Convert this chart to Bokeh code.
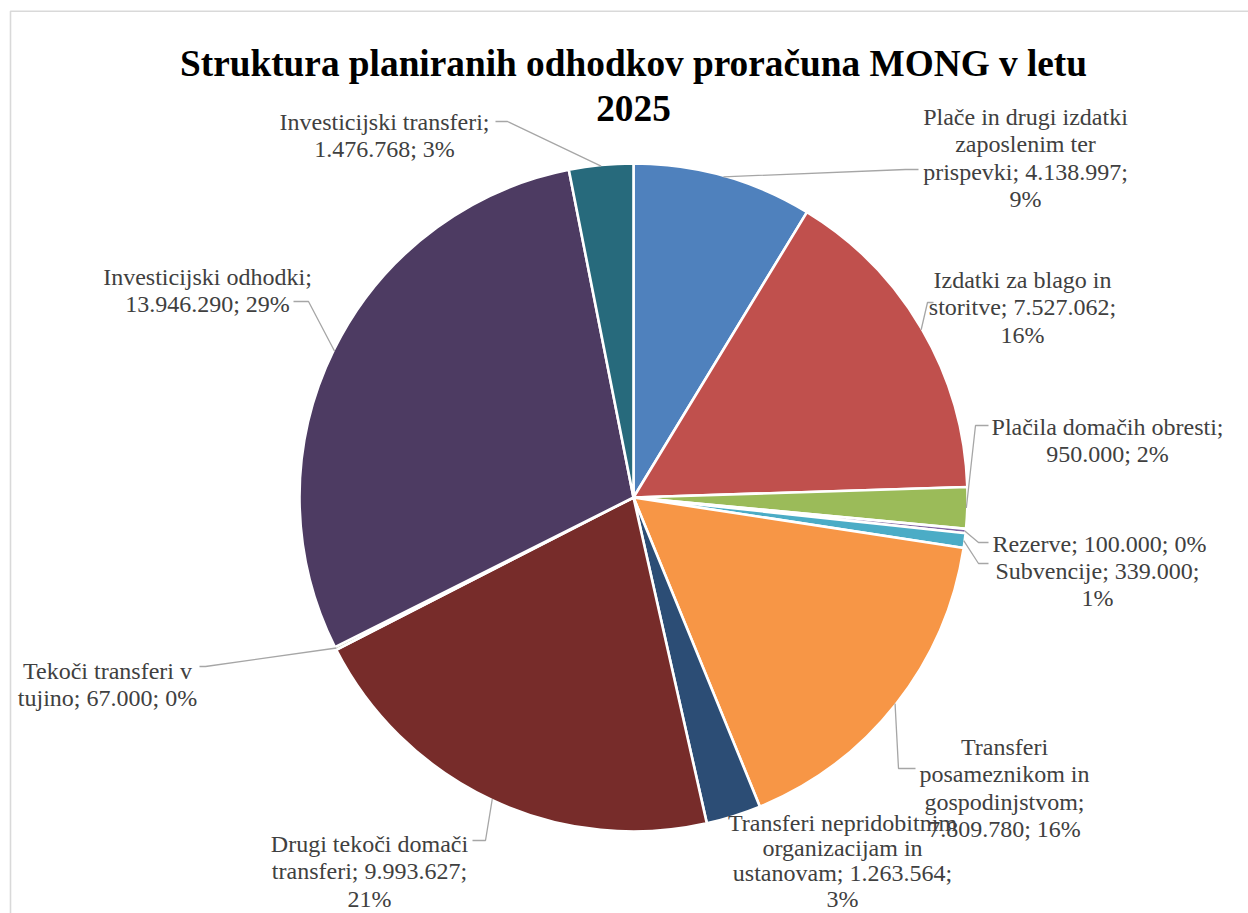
import math
from bokeh.plotting import figure
from bokeh.models import Range1d, ColumnDataSource
from bokeh.core.properties import value
from bokeh.embed import file_html
from bokeh.resources import INLINE

# ---------------- data ----------------
categories = [
    "Plače in drugi izdatki zaposlenim ter prispevki",
    "Izdatki za blago in storitve",
    "Plačila domačih obresti",
    "Rezerve",
    "Subvencije",
    "Transferi posameznikom in gospodinjstvom",
    "Transferi nepridobitnim organizacijam in ustanovam",
    "Drugi tekoči domači transferi",
    "Tekoči transferi v tujino",
    "Investicijski odhodki",
    "Investicijski transferi",
]
values = [4138997, 7527062, 950000, 100000, 339000, 7809780,
          1263564, 9993627, 67000, 13946290, 1476768]
colors = ["#4F81BD", "#C0504D", "#9BBB59", "#8064A2", "#4BACC6", "#F79646",
          "#2C4D75", "#772C2A", "#5F7530", "#4D3B62", "#276A7C"]

# label line breaks (text layout as in the reference)
label_lines = [
    ["Plače in drugi izdatki", "zaposlenim ter", "prispevki; {v};", "{p}%"],
    ["Izdatki za blago in", "storitve; {v};", "{p}%"],
    ["Plačila domačih obresti;", "{v}; {p}%"],
    ["Rezerve; {v}; {p}%"],
    ["Subvencije; {v};", "{p}%"],
    ["Transferi", "posameznikom in", "gospodinjstvom;", "{v}; {p}%"],
    ["Transferi nepridobitnim", "organizacijam in", "ustanovam; {v};", "{p}%"],
    ["Drugi tekoči domači", "transferi; {v};", "{p}%"],
    ["Tekoči transferi v", "tujino; {v}; {p}%"],
    ["Investicijski odhodki;", "{v}; {p}%"],
    ["Investicijski transferi;", "{v}; {p}%"],
]

# ---------------- layout (reference pixel coordinates) ----------------
W, H = 1248, 913
def Y(py):
    return H - py

CX, CY, R = 633, 497, 334
# label block: (center x, first-line baseline y, line step)
label_pos = [
    (1025, 116, 27.6), (1022, 279, 27.6), (1107, 426, 27.6), (1099, 543, 27.6),
    (1097, 570, 27.6), (1004, 746, 27.6), (842, 822, 25.4), (369, 843, 27.6),
    (107, 670, 27.6), (207, 276, 27.6), (384, 121, 27.6),
]
# leader lines: list of points after the arc point (None = no leader)
leaders = [
    [(905, 169), (918, 169)],
    [(927, 302), (933, 302)],
    [(975, 425), (988, 425)],
    [(978, 542), (988, 542)],
    [(978, 563), (988, 563)],
    [(898, 768), (915, 768)],
    None,
    [(485, 840), (472, 840)],
    [(205, 666), (199, 666)],
    [(308, 301), (293, 301)],
    [(507, 121), (495, 121)],
]

p = figure(width=W, height=H, output_backend="svg", toolbar_location=None,
           x_range=Range1d(0, W), y_range=Range1d(0, H),
           x_axis_type=None, y_axis_type=None, min_border=0)
p.grid.visible = False
p.outline_line_color = None
p.background_fill_color = "white"
p.border_fill_color = "white"

# chart area border (left and top edges visible)
p.line(x=[10, 10, 1260], y=[Y(920), Y(10.8), Y(10.8)], line_color="#D9D9D9", line_width=1.6)

# ---------------- pie ----------------
total = float(sum(values))
cum = 0.0
starts, ends, mids = [], [], []
for v in values:
    f0 = cum / total
    cum += v
    f1 = cum / total
    starts.append(math.pi / 2 - 2 * math.pi * f1)
    ends.append(math.pi / 2 - 2 * math.pi * f0)
    mids.append(math.pi / 2 - 2 * math.pi * (f0 + f1) / 2)

src = ColumnDataSource(dict(start=starts, end=ends, color=colors, cat=categories, val=values))
p.wedge(x=CX, y=Y(CY), radius=R, start_angle="start", end_angle="end",
        fill_color="color", line_color="white", line_width=2.6, source=src)

# ---------------- leaders ----------------
lx, ly = [], []
for i, pts in enumerate(leaders):
    if pts is None:
        continue
    ax = CX + (R - 1) * math.cos(mids[i])
    ay = Y(CY) + (R - 1) * math.sin(mids[i])
    lx.append([ax] + [q[0] for q in pts])
    ly.append([ay] + [Y(q[1]) for q in pts])
p.multi_line(xs=lx, ys=ly, line_color="#A6A6A6", line_width=1.3)

# ---------------- labels ----------------
tx, ty, tt = [], [], []
for i, lines in enumerate(label_lines):
    vs = f"{values[i]:,}".replace(",", ".")
    pc = int(round(values[i] / total * 100))
    x0, y0, step = label_pos[i]
    for k, ln in enumerate(lines):
        tx.append(x0)
        ty.append(Y(y0 + k * step))
        tt.append(ln.format(v=vs, p=pc))
p.text(x=tx, y=ty, text=tt, text_font=value("Liberation Serif"), text_font_size="24px",
       text_color="#404040", text_align="center", text_baseline="alphabetic")

# ---------------- title ----------------
title_lines = ["Struktura planiranih odhodkov proračuna MONG v letu", "2025"]
p.text(x=[633, 633], y=[Y(63), Y(108)], text=title_lines,
       text_font=value("Liberation Serif"), text_font_size="37.3px", text_font_style="bold",
       text_color="#000000", text_align="center", text_baseline="alphabetic")

open("out.html", "w").write(file_html(p, INLINE))
